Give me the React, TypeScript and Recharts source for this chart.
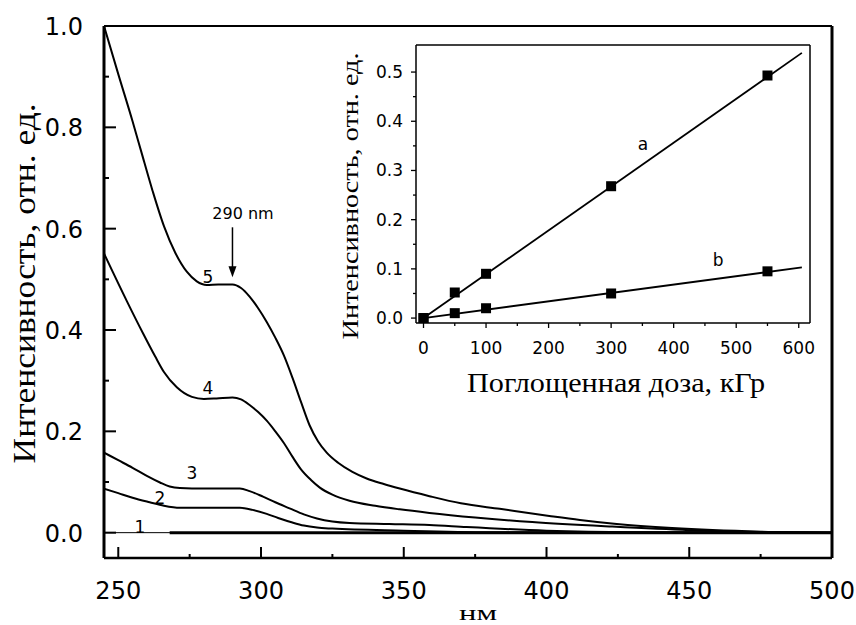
import React from 'react';
import { ComposedChart, Line, Scatter, XAxis, YAxis, ReferenceLine, ReferenceDot, Label } from 'recharts';

// ---- main spectra (wavelength, nm -> intensity) ----
const c5X = [245, 250, 255, 258, 262, 266, 270, 274, 277.5, 281, 285, 290, 293, 296, 299, 302, 305, 308, 311, 314, 317, 320, 323, 327, 332, 337, 343, 348.6, 359, 370, 383.6, 401, 411.7, 424.6, 444, 475, 500];
const c5Y = [1.0, 0.905, 0.812, 0.753, 0.675, 0.605, 0.552, 0.515, 0.496, 0.489, 0.49, 0.49, 0.483, 0.466, 0.443, 0.416, 0.385, 0.35, 0.306, 0.258, 0.212, 0.18, 0.158, 0.138, 0.12, 0.107, 0.096, 0.087, 0.072, 0.058, 0.047, 0.033, 0.025, 0.017, 0.009, 0.002, 0.0];
const c4X = [245, 253, 258.7, 262.9, 266, 270.5, 275.8, 280, 284.4, 290, 293, 296, 299, 302, 305, 308, 311, 314, 317.5, 320.6, 325, 331, 340, 348.6, 359, 375, 395, 423, 450, 480, 500];
const c4Y = [0.551, 0.457, 0.393, 0.348, 0.317, 0.287, 0.268, 0.264, 0.265, 0.267, 0.263, 0.252, 0.238, 0.221, 0.2, 0.177, 0.15, 0.125, 0.104, 0.089, 0.075, 0.063, 0.053, 0.046, 0.039, 0.03, 0.021, 0.012, 0.005, 0.001, 0.0];
const c3X = [245, 250, 255, 260, 264.6, 268, 271.6, 280, 292.6, 296, 300.7, 305, 310, 315, 319.6, 325, 331, 345, 359, 372, 400, 430, 500];
const c3Y = [0.158, 0.143, 0.128, 0.112, 0.099, 0.091, 0.088, 0.087, 0.087, 0.082, 0.071, 0.06, 0.048, 0.036, 0.028, 0.022, 0.019, 0.017, 0.015, 0.011, 0.004, 0.001, 0.0];
const c2X = [245, 250, 255, 261, 266, 271.6, 292.6, 297, 302, 306, 311, 315, 319.6, 325, 350, 380, 500];
const c2Y = [0.087, 0.078, 0.069, 0.06, 0.053, 0.049, 0.049, 0.045, 0.037, 0.029, 0.02, 0.014, 0.01, 0.008, 0.004, 0.001, 0.0];
const c1X = [268, 500];
const c1Y = [0.0, 0.0];

const curveLabels = [
  { x: 281.4, y: 0.504, text: '5' },
  { x: 281.4, y: 0.285, text: '4' },
  { x: 275.8, y: 0.117, text: '3' },
  { x: 264.6, y: 0.069, text: '2' },
  { x: 257.6, y: 0.012, text: '1' },
];

const X_DOMAIN = [245, 500];
const Y_DOMAIN = [-0.05, 1.0];
const mainXTicks = [250, 275, 300, 325, 350, 375, 400, 425, 450, 475, 500];
const mainXMajor = [250, 300, 350, 400, 450, 500];
const mainYTicks = [0, 0.1, 0.2, 0.3, 0.4, 0.5, 0.6, 0.7, 0.8, 0.9, 1.0];
const mainYMajor = [0, 0.2, 0.4, 0.6, 0.8, 1.0];

// ---- inset (dose, kGy -> intensity) ----
const doseX = [0, 50, 100, 300, 550];
const aY = [0, 0.052, 0.09, 0.268, 0.493];
const bY = [0, 0.01, 0.02, 0.05, 0.095];
const fitX = [0, 605];
const fitA = [0, 0.539];
const fitB = [0, 0.103];

const insetXTicks = [0, 50, 100, 150, 200, 250, 300, 350, 400, 450, 500, 550, 600];
const insetXMajor = [0, 100, 200, 300, 400, 500, 600];
const insetYTicks = [0, 0.05, 0.1, 0.15, 0.2, 0.25, 0.3, 0.35, 0.4, 0.45, 0.5];
const insetYMajor = [0, 0.1, 0.2, 0.3, 0.4, 0.5];

const zip = (xs: number[], ys: number[]) => xs.map((x, i) => ({ x, y: ys[i] }));

const SANS = 'DejaVu Sans';
const SERIF = 'Liberation Serif';

const near = (arr: number[], v: number) => arr.some((a) => Math.abs(a - v) < 1e-6);

const MainXTick = (p: any) => {
  const major = near(mainXMajor, p.payload.value);
  return (
    <g>
      <path d={`M${p.x},${p.y}V${p.y - (major ? 11 : 4)}`} stroke="#000" strokeWidth={2} fill="none" />
      {major && (
        <text x={p.x} y={p.y + 41} textAnchor="middle" fontSize={24} fontFamily={SANS} fill="#000">
          {p.payload.value}
        </text>
      )}
    </g>
  );
};

const MainYTick = (p: any) => {
  const major = near(mainYMajor, p.payload.value);
  return (
    <g>
      <path d={`M${p.x},${p.y}H${p.x + (major ? 12 : 5)}`} stroke="#000" strokeWidth={2} fill="none" />
      {major && (
        <text x={p.x - 21} y={p.y + 9} textAnchor="end" fontSize={24} fontFamily={SANS} fill="#000">
          {Number(p.payload.value).toFixed(1)}
        </text>
      )}
    </g>
  );
};

const InsetXTick = (p: any) => {
  const major = near(insetXMajor, p.payload.value);
  return (
    <g>
      <path d={`M${p.x},${p.y}V${p.y + (major ? 5 : 3)}`} stroke="#000" strokeWidth={1.3} fill="none" />
      {major && (
        <text x={p.x} y={p.y + 31} textAnchor="middle" fontSize={17} fontFamily={SANS} fill="#000">
          {p.payload.value}
        </text>
      )}
    </g>
  );
};

const InsetYTick = (p: any) => {
  const major = near(insetYMajor, p.payload.value);
  return (
    <g>
      <path d={`M${p.x},${p.y}H${p.x - (major ? 5 : 3)}`} stroke="#000" strokeWidth={1.3} fill="none" />
      {major && (
        <text x={p.x - 13} y={p.y + 6} textAnchor="end" fontSize={17} fontFamily={SANS} fill="#000">
          {Number(p.payload.value).toFixed(1)}
        </text>
      )}
    </g>
  );
};

const InsetYLabel = (p: any) => {
  const vb = p.viewBox;
  const x = vb.x + 28;
  const y = vb.y + vb.height / 2 + 12;
  return (
    <text x={x} y={y} transform={`rotate(-90, ${x}, ${y})`} textAnchor="middle" fontSize={24} fontFamily={SERIF}
      textLength={287} lengthAdjust="spacingAndGlyphs" fill="#000">
      Интенсивность, отн. ед.
    </text>
  );
};

const InsetXLabel = (p: any) => {
  const vb = p.viewBox;
  return (
    <text x={vb.x + vb.width / 2 + 3} y={vb.y + 69} textAnchor="middle" fontSize={27} fontFamily={SERIF}
      textLength={298} lengthAdjust="spacingAndGlyphs" fill="#000">
      Поглощенная доза, кГр
    </text>
  );
};

// main axis titles, anchored to the axis edge through the chart's scales
const MainYTitle = (p: any) => {
  const x = p.cx - 69;
  const y = p.cy;
  return (
    <text x={x} y={y} transform={`rotate(-90, ${x}, ${y})`} textAnchor="middle" fontSize={31} fontFamily={SERIF}
      textLength={360} lengthAdjust="spacingAndGlyphs" fill="#000">
      Интенсивность, отн. ед.
    </text>
  );
};
const MainXTitle = (p: any) => (
  <text x={p.cx} y={p.cy + 62} textAnchor="middle" fontSize={22} fontFamily={SERIF}
    textLength={38} lengthAdjust="spacingAndGlyphs" fill="#000">
    нм
  </text>
);

const textShape = (txt: string, size: number) => (p: any) => (
  <text x={p.cx} y={p.cy} textAnchor="middle" dominantBaseline="central" fontSize={size} fontFamily={SANS} fill="#000">
    {txt}
  </text>
);

// arrow pointing down to (cx, cy)
const Arrow = (p: any) => (
  <g>
    <path d={`M${p.cx},${p.cy - 50}V${p.cy - 9}`} stroke="#000" strokeWidth={1.5} fill="none" />
    <polygon points={`${p.cx},${p.cy} ${p.cx - 4},${p.cy - 11} ${p.cx + 4},${p.cy - 11}`} fill="#000" />
  </g>
);

const Square = (p: any) => <rect x={p.cx - 5} y={p.cy - 5} width={10} height={10} fill="#000" />;

const layer = (z: number): React.CSSProperties => ({ position: 'absolute', left: 0, top: 0, zIndex: z, pointerEvents: 'none' });

export default function App() {
  const curves = [zip(c5X, c5Y), zip(c4X, c4Y), zip(c3X, c3Y), zip(c2X, c2Y)];
  return (
    <div style={{ position: 'absolute', left: 0, top: 0, width: 856, height: 625, background: '#fff' }}>
      {/* frame, axes, ticks and curve 1 (no Label children) */}
      <div style={layer(1)}>
        <ComposedChart id="mainFrame" width={856} height={625} margin={{ top: 26, right: 24, left: 0, bottom: 0 }}>
          <XAxis type="number" dataKey="x" domain={X_DOMAIN} ticks={mainXTicks} interval={0} height={67}
            allowDataOverflow tickSize={0} tickMargin={0} tick={<MainXTick />} tickLine={false}
            axisLine={{ stroke: '#000', strokeWidth: 2.5 }} />
          <YAxis type="number" dataKey="y" domain={Y_DOMAIN} ticks={mainYTicks} interval={0} width={104}
            allowDataOverflow tickSize={0} tickMargin={0} tick={<MainYTick />} tickLine={false}
            axisLine={{ stroke: '#000', strokeWidth: 3 }} />
          <ReferenceLine y={Y_DOMAIN[1]} stroke="#000" strokeWidth={2} ifOverflow="visible" />
          <ReferenceLine x={X_DOMAIN[1]} stroke="#000" strokeWidth={3} ifOverflow="visible" />
          <ReferenceLine y={0} stroke="#000" strokeWidth={1} ifOverflow="visible" />
          <Line data={zip(c1X, c1Y)} dataKey="y" type="linear" stroke="#000" strokeWidth={3} dot={false}
            isAnimationActive={false} />
        </ComposedChart>
      </div>
      {/* spectra 2-5, annotations and axis titles */}
      <div style={layer(2)}>
        <ComposedChart id="mainCurves" width={856} height={625} margin={{ top: 26, right: 24, left: 104, bottom: 67 }}>
          <XAxis type="number" dataKey="x" domain={X_DOMAIN} hide allowDataOverflow />
          <YAxis type="number" dataKey="y" domain={Y_DOMAIN} hide allowDataOverflow />
          {curves.map((d, i) => (
            <Line key={i} data={d} dataKey="y" type="monotone" stroke="#000" strokeWidth={2} dot={false}
              isAnimationActive={false} />
          ))}
          {curveLabels.map((l) => (
            <ReferenceDot key={l.text} x={l.x} y={l.y} r={1} shape={textShape(l.text, 17)} ifOverflow="visible" />
          ))}
          <ReferenceDot x={290} y={0.504} r={1} shape={Arrow} ifOverflow="visible" />
          <ReferenceDot x={293.7} y={0.63} r={1} shape={textShape('290 nm', 16)} ifOverflow="visible" />
          <ReferenceDot x={X_DOMAIN[0]} y={0.492} r={1} shape={MainYTitle} ifOverflow="visible" />
          <ReferenceDot x={376} y={Y_DOMAIN[0]} r={1} shape={MainXTitle} ifOverflow="visible" />
        </ComposedChart>
      </div>
      {/* inset */}
      <div style={{ position: 'absolute', left: 330, top: 40, zIndex: 3 }}>
        <ComposedChart id="doseInset" width={490} height={360} margin={{ top: 5, right: 10, left: 0, bottom: 0 }}>
          <XAxis type="number" dataKey="x" domain={[-12, 618]} ticks={insetXTicks} interval={0} height={77}
            allowDataOverflow tickSize={0} tickMargin={0} tick={<InsetXTick />} tickLine={false}
            axisLine={{ stroke: '#000', strokeWidth: 1.5 }}>
            <Label content={<InsetXLabel />} />
          </XAxis>
          <YAxis type="number" dataKey="y" domain={[-0.01, 0.555]} ticks={insetYTicks} interval={0} width={86}
            allowDataOverflow tickSize={0} tickMargin={0} tick={<InsetYTick />} tickLine={false}
            axisLine={{ stroke: '#000', strokeWidth: 1.5 }}>
            <Label content={<InsetYLabel />} />
          </YAxis>
          <ReferenceLine y={0.555} stroke="#000" strokeWidth={1.5} ifOverflow="visible" />
          <ReferenceLine x={618} stroke="#000" strokeWidth={1.5} ifOverflow="visible" />
          <Line data={zip(fitX, fitA)} dataKey="y" type="linear" stroke="#000" strokeWidth={1.8} dot={false}
            isAnimationActive={false} />
          <Line data={zip(fitX, fitB)} dataKey="y" type="linear" stroke="#000" strokeWidth={1.8} dot={false}
            isAnimationActive={false} />
          <Scatter data={zip(doseX, aY)} dataKey="y" shape={<Square />} isAnimationActive={false} />
          <Scatter data={zip(doseX, bY)} dataKey="y" shape={<Square />} isAnimationActive={false} />
          <ReferenceDot x={351} y={0.353} r={1} shape={textShape('a', 17)} ifOverflow="visible" />
          <ReferenceDot x={471} y={0.118} r={1} shape={textShape('b', 17)} ifOverflow="visible" />
        </ComposedChart>
      </div>
    </div>
  );
}
